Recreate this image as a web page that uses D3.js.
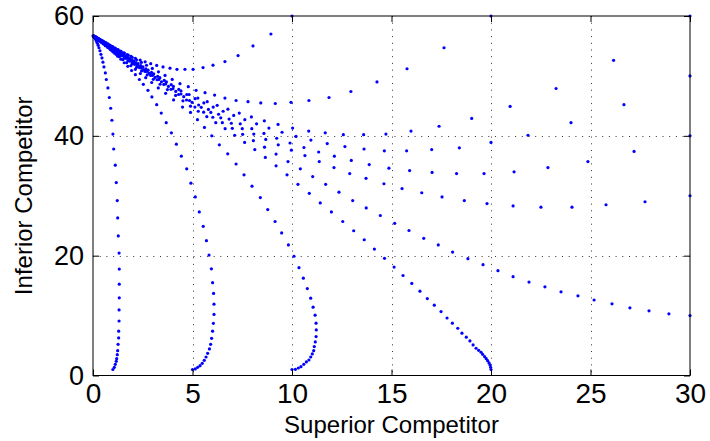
<!DOCTYPE html>
<html><head><meta charset="utf-8">
<script src="https://cdn.jsdelivr.net/npm/d3@7"></script>
<style>body{margin:0;background:#fff}svg{display:block}</style>
</head><body><svg id="c" width="710" height="441"></svg>
<script>
// Trajectories (Superior competitor x, Inferior competitor y)
const trajA = [[1.0,1.0],[1.07,1.37],[1.12,1.87],[1.17,2.37],[1.19,2.81],[1.22,3.48],[1.24,4.15],[1.26,5.2],[1.29,6.27],[1.29,7.4],[1.31,9.1],[1.31,10.95],[1.32,12.96],[1.32,15.25],[1.32,17.76],[1.31,20.43],[1.27,23.3],[1.24,26.3],[1.22,29.2],[1.17,32.2],[1.12,35.1],[1.04,37.8],[1.0,40.3],[0.95,42.6],[0.89,44.6],[0.82,46.4],[0.75,48.0],[0.67,49.4],[0.62,50.5],[0.55,51.5],[0.5,52.3],[0.45,53.0],[0.4,53.6],[0.35,54.2],[0.3,54.7],[0.26,55.1],[0.22,55.45],[0.18,55.75],[0.15,56.0],[0.12,56.2],[0.09,56.35],[0.07,56.47],[0.05,56.56],[0.03,56.63],[0.0,56.7]];
const trajB = [[5.0,1.0],[5.14,1.09],[5.26,1.37],[5.38,1.64],[5.49,2.04],[5.59,2.54],[5.68,3.09],[5.76,3.7],[5.85,4.43],[5.91,5.2],[5.96,6.2],[6.01,7.4],[6.05,8.7],[6.08,10.2],[6.08,11.9],[6.06,13.7],[6.01,15.5],[5.95,17.8],[5.83,20.1],[5.7,22.5],[5.54,24.9],[5.34,27.3],[5.14,29.8],[4.92,32.1],[4.71,34.5],[4.44,36.6],[4.19,38.6],[3.94,40.5],[3.68,42.2],[3.43,43.8],[3.2,45.2],[2.96,46.5],[2.76,47.6],[2.53,48.6],[2.33,49.4],[2.13,50.2],[1.94,50.9],[1.75,51.6],[1.57,52.2],[1.4,52.8],[1.24,53.3],[1.09,53.8],[0.95,54.2],[0.82,54.6],[0.7,54.95],[0.59,55.25],[0.49,55.5],[0.4,55.75],[0.32,55.95],[0.25,56.1],[0.19,56.25],[0.14,56.4],[0.1,56.5],[0.06,56.6]];
const trajC = [[10.0,1.0],[10.17,1.03],[10.32,1.25],[10.45,1.47],[10.59,1.87],[10.72,2.26],[10.85,2.59],[10.94,3.09],[11.02,3.6],[11.09,4.15],[11.12,4.82],[11.17,5.6],[11.21,6.49],[11.22,7.6],[11.21,8.73],[11.16,10.07],[11.06,11.4],[10.94,12.9],[10.77,14.5],[10.57,16.25],[10.35,18.0],[10.1,19.9],[9.82,21.8],[9.48,23.8],[9.15,25.7],[8.78,27.7],[8.41,29.7],[7.99,31.6],[7.59,33.5],[7.19,35.3],[6.77,37.0],[6.35,38.5],[5.97,40.0],[5.6,41.4],[5.25,42.7],[4.9,43.9],[4.5,44.8],[4.05,46.0],[3.65,47.1],[3.28,48.0],[2.95,48.9],[2.65,49.7],[2.38,50.4],[2.13,51.1],[1.9,51.7],[1.69,52.2],[1.5,52.7],[1.32,53.2],[1.16,53.6],[1.01,54.0],[0.87,54.4],[0.74,54.75],[0.62,55.05],[0.51,55.35],[0.41,55.6],[0.32,55.85],[0.24,56.05],[0.17,56.25],[0.11,56.4],[0.06,56.55]];
const trajD = [[20.0,1.0],[19.98,1.37],[19.95,1.76],[19.9,2.1],[19.83,2.48],[19.76,2.81],[19.68,3.14],[19.58,3.54],[19.5,3.88],[19.38,4.2],[19.25,4.55],[19.1,5.1],[18.94,5.77],[18.76,6.39],[18.54,7.06],[18.33,7.89],[18.06,8.73],[17.79,9.6],[17.49,10.67],[17.15,11.74],[16.8,12.84],[16.43,14.08],[16.02,15.36],[15.58,16.69],[15.13,18.09],[14.65,19.55],[14.14,21.1],[13.63,22.66],[13.1,24.16],[12.55,25.7],[11.98,27.3],[11.42,28.8],[10.87,30.4],[10.3,31.9],[9.75,33.5],[9.2,35.0],[8.66,36.4],[8.13,37.7],[7.62,38.9],[7.12,40.1],[6.64,41.2],[6.17,42.2],[5.72,43.2],[5.29,44.1],[4.9,44.95],[4.52,45.85],[4.15,46.74],[3.74,47.72],[3.37,48.61],[3.03,49.43],[2.72,50.17],[2.44,50.84],[2.19,51.44],[1.96,52.0],[1.75,52.5],[1.56,52.96],[1.38,53.39],[1.22,53.77],[1.07,54.13],[0.93,54.47],[0.8,54.78],[0.68,55.07],[0.57,55.33],[0.47,55.57],[0.38,55.79],[0.3,55.98],[0.22,56.17],[0.15,56.34],[0.09,56.48],[0.05,56.58]];
const trajE = [[30,10],[28.94,10.3],[27.94,10.8],[26.98,11.3],[26.08,11.96],[25.18,12.6],[24.37,13.3],[23.52,13.96],[22.71,14.8],[21.91,15.6],[21.11,16.5],[20.35,17.5],[19.6,18.5],[18.84,19.5],[18.07,20.6],[17.35,21.8],[16.62,22.9],[15.88,24.2],[15.16,25.4],[14.44,26.7],[13.73,27.96],[13.05,29.2],[12.36,30.6],[11.69,31.9],[11.04,33.2],[10.42,34.5],[9.8,35.7],[9.2,36.95],[8.62,38.1],[8.06,39.2],[7.52,40.25],[7.0,41.25],[6.5,42.2],[6.02,43.1],[5.56,43.95],[5.12,44.8],[4.7,45.98],[4.3,46.9],[3.92,47.76],[3.56,48.58],[3.22,49.36],[2.9,50.09],[2.61,50.75],[2.34,51.36],[2.09,51.93],[1.86,52.46],[1.65,52.94],[1.46,53.37],[1.29,53.76],[1.13,54.12],[0.98,54.47],[0.85,54.76],[0.73,55.04],[0.62,55.29],[0.52,55.51],[0.43,55.72],[0.35,55.9],[0.27,56.08],[0.2,56.24],[0.14,56.38],[0.08,56.52],[0.04,56.61]];
const trajF = [[30,30],[27.74,29.0],[25.78,28.5],[24.07,28.1],[22.51,28.1],[21.11,28.3],[19.8,28.7],[18.66,29.2],[17.54,29.8],[16.52,30.5],[15.53,31.2],[14.62,32.0],[13.72,32.9],[12.9,33.7],[12.11,34.7],[11.37,35.7],[10.65,36.7],[9.97,37.6],[9.31,38.5],[8.68,39.4],[8.08,40.3],[7.5,41.2],[6.95,42.1],[6.42,43.0],[5.92,43.9],[5.44,44.75],[4.98,45.6],[4.56,46.53],[4.16,47.42],[3.79,48.25],[3.44,49.03],[3.12,49.74],[2.82,50.41],[2.55,51.01],[2.3,51.57],[2.06,52.11],[1.84,52.6],[1.64,53.04],[1.46,53.44],[1.29,53.82],[1.14,54.16],[1.0,54.47],[0.87,54.76],[0.75,55.03],[0.64,55.27],[0.54,55.5],[0.45,55.7],[0.37,55.87],[0.29,56.05],[0.22,56.21],[0.16,56.34],[0.1,56.48],[0.05,56.59]];
const trajG = [[30,40],[27.19,37.4],[24.87,35.7],[22.86,34.7],[21.16,34.0],[19.65,33.7],[18.27,33.7],[17.04,33.9],[15.91,34.2],[14.87,34.6],[13.88,35.2],[12.98,35.9],[12.13,36.6],[11.34,37.3],[10.6,38.05],[9.9,38.8],[9.23,39.6],[8.59,40.4],[7.98,41.2],[7.4,42.0],[6.84,42.8],[6.31,43.6],[5.8,44.4],[5.31,45.15],[4.85,45.9],[4.42,46.98],[4.02,47.86],[3.65,48.67],[3.31,49.42],[3.0,50.1],[2.71,50.74],[2.45,51.31],[2.21,51.84],[1.99,52.32],[1.79,52.76],[1.6,53.18],[1.43,53.55],[1.27,53.91],[1.12,54.24],[0.99,54.52],[0.86,54.81],[0.74,55.07],[0.63,55.31],[0.53,55.53],[0.44,55.73],[0.36,55.91],[0.28,56.08],[0.21,56.24],[0.15,56.37],[0.1,56.48],[0.05,56.59]];
const trajH = [[30,50],[26.68,45.2],[24.02,42.2],[21.86,40.1],[20.0,38.9],[18.41,38.0],[17.02,37.7],[15.76,37.5],[14.64,37.5],[13.62,37.8],[12.66,38.2],[11.77,38.7],[10.95,39.3],[10.2,39.9],[9.5,40.6],[8.84,41.3],[8.22,42.0],[7.63,42.7],[7.07,43.4],[6.54,44.1],[6.04,44.8],[5.57,45.5],[5.13,46.2],[4.71,46.9],[4.31,47.74],[3.93,48.53],[3.58,49.25],[3.25,49.94],[2.94,50.58],[2.66,51.17],[2.4,51.71],[2.16,52.21],[1.94,52.66],[1.74,53.08],[1.56,53.46],[1.39,53.81],[1.24,54.12],[1.1,54.41],[0.97,54.68],[0.85,54.93],[0.74,55.16],[0.64,55.37],[0.55,55.56],[0.46,55.74],[0.38,55.91],[0.31,56.06],[0.24,56.2],[0.18,56.33],[0.12,56.45],[0.07,56.55]];
const trajI = [[30,60],[26.16,52.6],[23.27,47.9],[20.96,44.9],[19.03,42.9],[17.39,41.6],[15.98,40.8],[14.72,40.3],[13.6,40.2],[12.58,40.2],[11.67,40.5],[10.84,40.8],[10.03,41.3],[9.3,41.9],[8.61,42.5],[7.96,43.15],[7.35,43.8],[6.78,44.45],[6.24,45.1],[5.74,45.7],[5.27,46.3],[4.83,46.9],[4.42,47.5],[4.04,48.25],[3.69,49.0],[3.36,49.7],[3.05,50.35],[2.77,50.95],[2.51,51.5],[2.27,52.05],[2.05,52.5],[1.85,52.91],[1.66,53.3],[1.49,53.65],[1.33,53.97],[1.19,54.26],[1.05,54.55],[0.93,54.79],[0.82,55.02],[0.71,55.24],[0.61,55.45],[0.52,55.63],[0.44,55.8],[0.36,55.96],[0.29,56.11],[0.23,56.23],[0.17,56.35],[0.11,56.47],[0.06,56.58]];
const trajJ = [[20,60],[17.64,54.7],[15.78,51.2],[14.27,49.0],[12.96,47.4],[11.86,46.4],[10.85,45.9],[9.95,45.6],[9.16,45.4],[8.43,45.5],[7.79,45.7],[7.19,45.9],[6.63,46.3],[6.11,46.8],[5.63,47.2],[5.18,47.6],[4.79,48.2],[4.37,48.7],[3.98,49.42],[3.62,50.08],[3.29,50.68],[2.98,51.25],[2.69,51.78],[2.43,52.25],[2.19,52.69],[1.97,53.1],[1.77,53.46],[1.58,53.81],[1.41,54.12],[1.26,54.39],[1.12,54.65],[0.99,54.89],[0.87,55.11],[0.77,55.29],[0.67,55.47],[0.58,55.64],[0.5,55.79],[0.43,55.91],[0.36,56.04],[0.3,56.15],[0.25,56.24],[0.2,56.33],[0.15,56.43],[0.11,56.5],[0.07,56.57],[0.04,56.63]];
const trajK = [[10,60],[8.94,57.0],[8.04,55.0],[7.29,53.4],[6.63,52.4],[6.03,51.8],[5.53,51.4],[5.03,51.1],[4.62,51.1],[4.22,51.1],[3.87,51.3],[3.52,51.5],[3.2,51.75],[2.9,52.05],[2.62,52.35],[2.37,52.65],[2.13,52.95],[1.91,53.25],[1.71,53.55],[1.53,53.85],[1.36,54.15],[1.21,54.4],[1.07,54.65],[0.95,54.9],[0.84,55.1],[0.74,55.3],[0.65,55.5],[0.56,55.65],[0.49,55.8],[0.42,55.95],[0.36,56.07],[0.3,56.18],[0.25,56.28],[0.2,56.38],[0.16,56.46],[0.12,56.54],[0.08,56.6],[0.05,56.65]];

const xTickValues = [0, 5, 10, 15, 20, 25, 30];
const yTickValues = [0, 20, 40, 60];
const xTitle = "Superior Competitor";
const yTitle = "Inferior Competitor";

const trajectories = [trajA, trajB, trajC, trajD, trajE, trajF, trajG, trajH, trajI, trajJ, trajK];

const L = 93, R = 690, T = 16, B = 375.5;
const FONT = "'Liberation Sans', Arial, Helvetica, sans-serif";

const svg = d3.select("#c");
const x = d3.scaleLinear().domain([0, 30]).range([L, R]);
const y = d3.scaleLinear().domain([0, 60]).range([B, T]);

// grid
const grid = svg.append("g");
grid.selectAll("line.vg").data(xTickValues.slice(1, -1)).enter().append("line")
  .attr("x1", d => Math.round(x(d)) + 0.5).attr("x2", d => Math.round(x(d)) + 0.5)
  .attr("y1", T).attr("y2", B)
  .attr("stroke", "#333").attr("stroke-width", 1).attr("stroke-dasharray", "1,5.7");
grid.selectAll("line.hg").data(yTickValues.slice(1, -1)).enter().append("line")
  .attr("y1", d => Math.round(y(d)) + 0.5).attr("y2", d => Math.round(y(d)) + 0.5)
  .attr("x1", L).attr("x2", R)
  .attr("stroke", "#333").attr("stroke-width", 1).attr("stroke-dasharray", "1,5.7");

// points
const pts = svg.append("g");
trajectories.forEach(tr => {
  pts.selectAll(null).data(tr).enter().append("circle")
    .attr("cx", d => x(d[0])).attr("cy", d => y(d[1]))
    .attr("r", 1.6).attr("fill", "#0000ff");
});

// axes
const axB = svg.append("g").attr("transform", `translate(0,${B})`)
  .call(d3.axisBottom(x).tickValues(xTickValues).tickSizeInner(-6).tickSizeOuter(0).tickPadding(8).tickFormat(d3.format("d")));
const axL = svg.append("g").attr("transform", `translate(${L},0)`)
  .call(d3.axisLeft(y).tickValues(yTickValues).tickSizeInner(-6).tickSizeOuter(0).tickPadding(9).tickFormat(d3.format("d")));
const axT = svg.append("g").attr("transform", `translate(0,${T})`)
  .call(d3.axisTop(x).tickValues(xTickValues).tickSizeInner(-6).tickSizeOuter(0).tickFormat(""));
const axR = svg.append("g").attr("transform", `translate(${R},0)`)
  .call(d3.axisRight(y).tickValues(yTickValues).tickSizeInner(-6).tickSizeOuter(0).tickFormat(""));
[axB, axL, axT, axR].forEach(a => {
  a.select(".domain").remove();
  a.selectAll(".tick line").attr("stroke", "#000").attr("stroke-width", 1);
  a.selectAll(".tick text").attr("font-family", FONT).attr("fill", "#000");
});
axB.selectAll(".tick text").attr("font-size", 28);
axL.selectAll(".tick text").attr("font-size", 27);

// frame
svg.append("rect").attr("x", L).attr("y", T).attr("width", R - L).attr("height", B - T)
  .attr("fill", "none").attr("stroke", "#000").attr("stroke-width", 1);

// titles
svg.append("text").attr("x", (L + R) / 2).attr("y", 433).attr("text-anchor", "middle")
  .attr("font-family", FONT).attr("font-size", 24).attr("fill", "#000").text(xTitle);
svg.append("text").attr("transform", `translate(32,${(T + B) / 2}) rotate(-90)`).attr("text-anchor", "middle")
  .attr("font-family", FONT).attr("font-size", 24).attr("fill", "#000").text(yTitle);
</script>
</body></html>
